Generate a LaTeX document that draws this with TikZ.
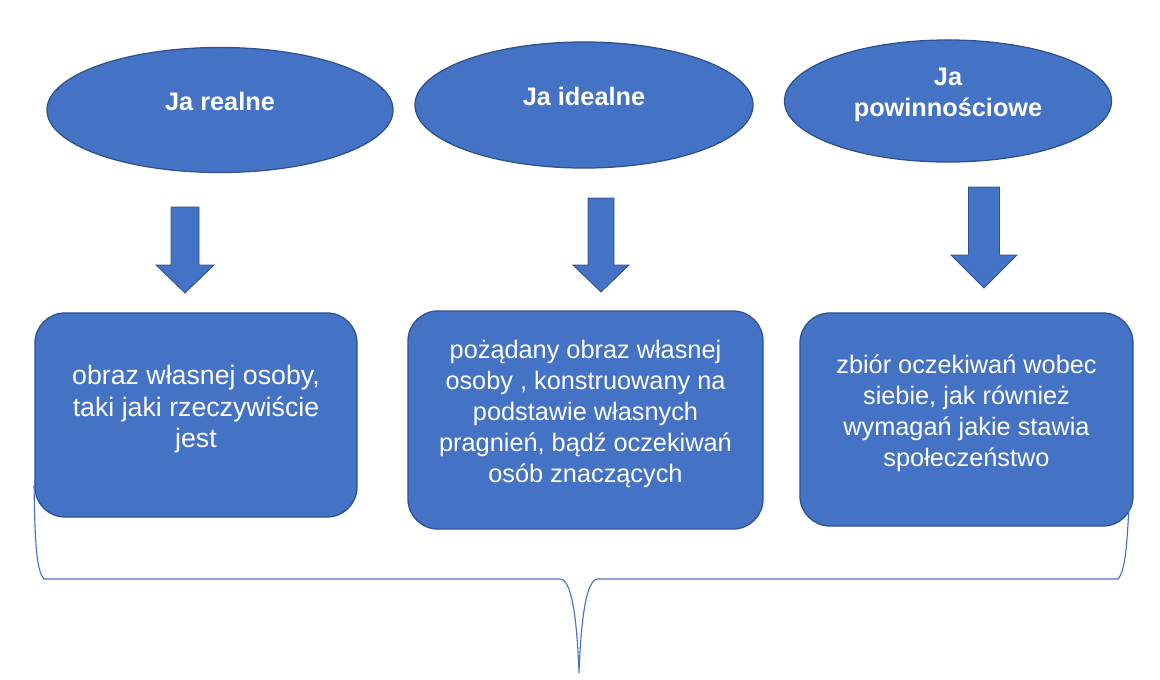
\documentclass[tikz,border=0pt]{standalone}
\usepackage{fontspec}
\setmainfont{Liberation Sans}
\usepackage{xcolor}
\definecolor{office}{HTML}{4472C4}
\definecolor{rim}{HTML}{2F528F}
\usepackage{tikz}
\usetikzlibrary{shapes.geometric}
\tikzset{
  every picture/.style={line width=0.9pt},
  shapebase/.style={fill=office, draw=rim, text=white, align=center, inner sep=2pt,
    text depth=12pt, font=\fontsize{18}{22}\selectfont},
  oval/.style={shapebase, ellipse, font=\fontsize{18}{22}\selectfont\bfseries},
  card/.style={shapebase, rounded corners=0.75cm},
  arrowfill/.style={fill=office, draw=rim, line width=0.6pt},
  brace/.style={draw=office, line width=0.8pt},
}
% block arrow: x, top, neck, tip, shaft half width, head half width
\newcommand{\blockdown}[6]{\filldraw[arrowfill] (#1-#5,#2) -- (#1+#5,#2) -- (#1+#5,#3) -- (#1+#6,#3)
  -- (#1,#4) -- (#1-#6,#3) -- (#1-#5,#3) -- cycle;}

\begin{document}
\begin{tikzpicture}[x=0.025cm, y=-0.025cm]
  \useasboundingbox (0,0) rectangle (1160,679);
  \foreach \name/\x/\y/\w/\h/\label in {real/220/110/8.65/3.125/{Ja realne}, ideal/584/105/8.45/3.15/{Ja idealne}, ought/948/101/8.175/3.05/{Ja\\powinnościowe}} {
    \node[oval, minimum width=\w cm, minimum height=\h cm] (\name) at (\x,\y) {\label};
  }
  \node[card, minimum width=8.05cm, minimum height=5.1cm, font=\fontsize{19}{22.5}\selectfont] (realtxt) at (196,415)
    {obraz własnej osoby,\\taki jaki rzeczywiście\\jest};
  \node[card, minimum width=8.875cm, minimum height=5.45cm] (idealtxt) at (585.5,420)
    {pożądany obraz własnej\\osoby , konstruowany na\\podstawie własnych\\pragnień, bądź oczekiwań\\osób znaczących};
  \node[card, minimum width=8.325cm, minimum height=5.325cm] (oughttxt) at (966.5,419.5)
    {zbiór oczekiwań wobec\\siebie, jak również\\wymagań jakie stawia\\społeczeństwo};
  \blockdown{185}{207}{265}{293}{14}{29}
  \blockdown{601}{198}{265}{292}{13}{28}
  \blockdown{984}{187}{255}{288}{15.5}{33}
  % brace under the three boxes
  \draw[brace] (34,485) .. controls (35,540) and (36,570) .. (44,579) -- (560,579)
    .. controls (572,579) and (577,620) .. (579,673)
    .. controls (581,620) and (586,579) .. (598,579) -- (1118,579)
    .. controls (1126,570) and (1127,540) .. (1129,507);
\end{tikzpicture}
\end{document}
